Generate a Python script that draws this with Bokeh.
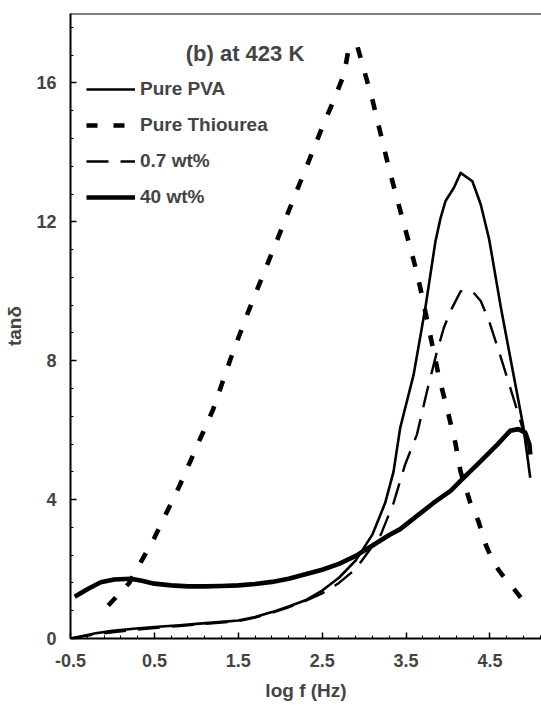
import numpy as np
from bokeh.plotting import figure
from bokeh.models import FixedTicker, Span, Label, Legend, LegendItem, Range1d
from bokeh.embed import file_html
from bokeh.resources import INLINE

# log f (Hz) / tan(delta) readings for each sample
pva_x = [-0.5, -0.2, 0.0, 0.25, 0.5, 0.8, 1.0, 1.3, 1.5, 1.7, 1.9, 2.1, 2.3, 2.5,
         2.7, 2.9, 3.1, 3.25, 3.35, 3.43, 3.59, 3.73, 3.85, 3.91, 3.97, 4.07,
         4.15, 4.29, 4.39, 4.49, 4.63, 4.78, 4.9, 4.98]
pva_y = [0.0, 0.15, 0.22, 0.28, 0.33, 0.38, 0.42, 0.48, 0.52, 0.62, 0.76, 0.92,
         1.1, 1.38, 1.75, 2.25, 3.0, 3.9, 4.8, 6.07, 7.6, 9.53, 11.44, 12.1,
         12.6, 12.98, 13.41, 13.17, 12.5, 11.5, 9.53, 7.6, 6.07, 4.63]

thio_x = [-0.05, 0.2, 0.5, 0.8, 1.0, 1.2, 1.4, 1.6, 1.8, 1.95, 2.14, 2.34, 2.48,
          2.62, 2.76, 2.82, 2.92, 3.1, 3.3, 3.55, 3.63, 3.7, 3.8, 3.89, 3.99,
          4.09, 4.15, 4.27, 4.36, 4.45, 4.54, 4.64, 4.74, 4.86, 4.98]
thio_y = [0.95, 1.6, 2.9, 4.4, 5.5, 6.6, 8.0, 9.3, 10.5, 11.4, 12.55, 13.75,
          14.6, 15.4, 16.24, 17.05, 17.05, 15.5, 13.5, 11.25, 10.53, 9.75, 8.6,
          7.55, 6.6, 5.6, 4.8, 3.87, 3.39, 2.7, 2.19, 1.85, 1.57, 1.2, 0.85]

wt07_x = [-0.5, -0.2, 0.0, 0.25, 0.5, 0.8, 1.0, 1.3, 1.5, 1.7, 1.9, 2.1, 2.3,
          2.5, 2.7, 2.9, 3.05, 3.2, 3.35, 3.49, 3.63, 3.75, 3.87, 3.95, 4.03,
          4.15, 4.29, 4.39, 4.49, 4.63, 4.79, 4.91, 4.97]
wt07_y = [0.0, 0.12, 0.18, 0.25, 0.3, 0.36, 0.4, 0.46, 0.5, 0.6, 0.74, 0.9,
          1.08, 1.3, 1.6, 2.0, 2.5, 3.0, 3.9, 5.02, 5.88, 7.13, 8.28, 8.95,
          9.43, 10.0, 10.0, 9.72, 9.14, 8.09, 6.84, 5.88, 5.31]

wt40_x = [-0.45, -0.3, -0.14, 0.02, 0.22, 0.35, 0.5, 0.7, 0.9, 1.1, 1.3, 1.5,
          1.7, 1.9, 2.1, 2.3, 2.5, 2.7, 2.9, 3.1, 3.3, 3.43, 3.63, 3.83, 4.03,
          4.17, 4.39, 4.59, 4.74, 4.84, 4.92, 4.97, 4.98]
wt40_y = [1.2, 1.42, 1.62, 1.7, 1.72, 1.66, 1.58, 1.53, 1.5, 1.5, 1.51, 1.53,
          1.57, 1.63, 1.72, 1.85, 1.98, 2.15, 2.38, 2.68, 2.98, 3.15, 3.53,
          3.91, 4.25, 4.59, 5.11, 5.59, 5.98, 6.03, 5.93, 5.59, 5.3]

x_ticks = [-0.5, 0.5, 1.5, 2.5, 3.5, 4.5]
x_minor = [round(v, 1) for v in np.arange(-0.5, 5.11, 0.2)]
y_ticks = [0, 4, 8, 12, 16]
y_minor = [round(v, 1) for v in np.arange(0, 18.01, 0.8)]

FONT = "Liberation Sans"

p = figure(width=541, height=709, output_backend="svg", toolbar_location=None,
           x_range=Range1d(-0.5, 5.114), y_range=Range1d(0, 18),
           min_border_left=70, min_border_right=0, min_border_top=13,
           min_border_bottom=71)
p.outline_line_color = None
p.grid.visible = False
p.background_fill_color = "white"
p.border_fill_color = "white"

r_pva = p.line(pva_x, pva_y, line_color="black", line_width=2.6,
               line_join="round")
r_thio = p.line(thio_x, thio_y, line_color="black", line_width=4.6,
                line_dash="11 16")
r_07 = p.line(wt07_x, wt07_y, line_color="black", line_width=2.4,
              line_dash="22 12")
r_40 = p.line(wt40_x, wt40_y, line_color="black", line_width=4.6,
              line_join="round")

# top frame edge
p.add_layout(Span(location=18, dimension="width", line_color="black",
                  line_width=2))

for ax, ticks, minor in ((p.xaxis, x_ticks, x_minor), (p.yaxis, y_ticks, y_minor)):
    ax.ticker = FixedTicker(ticks=ticks, minor_ticks=minor)
    ax.axis_line_width = 2
    ax.major_tick_in = 6
    ax.major_tick_out = 0
    ax.minor_tick_in = 3
    ax.minor_tick_out = 0
    ax.major_tick_line_width = 1.5
    ax.major_label_text_font = FONT
    ax.major_label_text_font_style = "bold"
    ax.major_label_text_font_size = "18px"
    ax.axis_label_text_font = FONT
    ax.axis_label_text_font_style = "bold"
    ax.axis_label_text_font_size = "19px"

p.xaxis.axis_label = "log f (Hz)"
p.xaxis.major_label_standoff = 15
p.xaxis.axis_label_standoff = 10
p.xaxis.major_label_overrides = {-0.5: "-0.5"}
p.yaxis.axis_label = "tanδ"
p.yaxis.major_label_standoff = 14
p.yaxis.axis_label_standoff = 8

p.add_layout(Label(x=1.58, y=16.84, text="(b) at 423 K", text_align="center",
                   text_baseline="middle", text_font=FONT,
                   text_font_style="bold", text_font_size="22px"))

legend = Legend(
    items=[LegendItem(label="Pure PVA", renderers=[r_pva]),
           LegendItem(label="Pure Thiourea", renderers=[r_thio]),
           LegendItem(label="0.7 wt%", renderers=[r_07]),
           LegendItem(label="40 wt%", renderers=[r_40])],
    location=(16, 430), glyph_width=49, glyph_height=20, label_height=20,
    spacing=14, padding=0, margin=0, label_standoff=5,
    border_line_color=None, background_fill_alpha=0,
    label_text_font=FONT, label_text_font_style="bold",
    label_text_font_size="19px")
p.add_layout(legend)

open("out.html", "w").write(file_html(p, INLINE))
